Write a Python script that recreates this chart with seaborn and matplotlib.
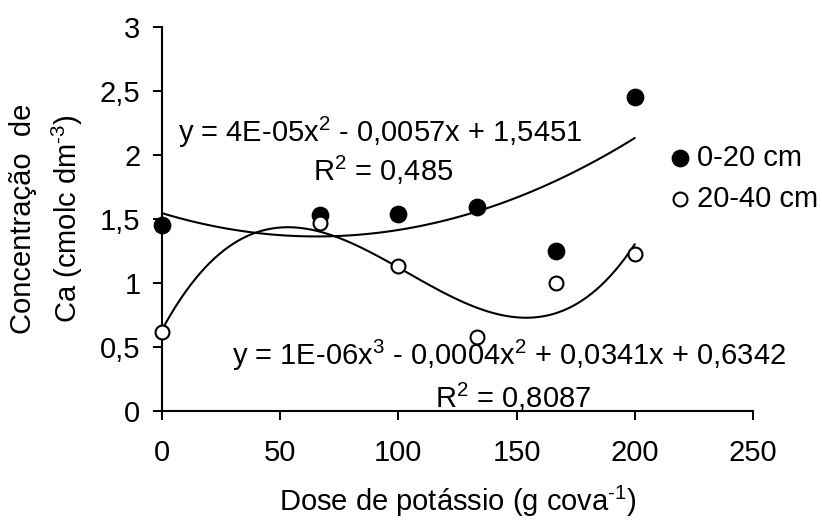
import seaborn as sns
import matplotlib.pyplot as plt
import pandas as pd

# Dados
doses = [0, 66.67, 100, 133.33, 166.67, 200]
ca_0_20 = [1.45, 1.535, 1.54, 1.59, 1.25, 2.45]
ca_20_40 = [0.62, 1.47, 1.13, 0.58, 1.00, 1.23]
camadas = ['0-20 cm', '20-40 cm']

xticks = [0, 50, 100, 150, 200, 250]
yticks = [0, 0.5, 1, 1.5, 2, 2.5, 3]
ytick_labels = ['0', '0,5', '1', '1,5', '2', '2,5', '3']

eq_0_20 = 'y = 4E-05x$^{2}$ - 0,0057x + 1,5451'
r2_0_20 = 'R$^{2}$ = 0,485'
eq_20_40 = 'y = 1E-06x$^{3}$ - 0,0004x$^{2}$ + 0,0341x + 0,6342'
r2_20_40 = 'R$^{2}$ = 0,8087'

df = pd.DataFrame({
    'dose': doses * 2,
    'ca': ca_0_20 + ca_20_40,
    'camada': [camadas[0]] * len(doses) + [camadas[1]] * len(doses),
})

sns.set_style('ticks')
plt.rcParams['font.family'] = ['Liberation Sans', 'DejaVu Sans']
plt.rcParams.update({
    'mathtext.default': 'regular',
    'font.size': 21,
    'text.color': 'black',
    'axes.labelcolor': 'black',
    'axes.edgecolor': 'black',
    'xtick.color': 'black',
    'ytick.color': 'black',
})
FS = 21

fig, ax = plt.subplots(figsize=(8.22, 5.22), dpi=100)
fig.subplots_adjust(left=162 / 822, right=753 / 822, bottom=111 / 522, top=495 / 522)

# linhas de tendência (polinomial 2ª e 3ª ordem)
d1 = df[df['camada'] == camadas[0]]
d2 = df[df['camada'] == camadas[1]]
sns.regplot(data=d1, x='dose', y='ca', order=2, ci=None, scatter=False,
            color='black', line_kws={'lw': 1.5}, ax=ax)
sns.regplot(data=d2, x='dose', y='ca', order=3, ci=None, scatter=False,
            color='black', line_kws={'lw': 1.5}, ax=ax)

# pontos
sns.scatterplot(data=d1, x='dose', y='ca', color='black', edgecolor='black',
                s=140, label=camadas[0], ax=ax, zorder=3, clip_on=False)
sns.scatterplot(data=d2, x='dose', y='ca', color='white', edgecolor='black',
                linewidth=1.5, s=100, label=camadas[1], ax=ax, zorder=3, clip_on=False)

ax.set_xlim(0, 250)
ax.set_ylim(0, 3)
ax.set_xticks(xticks)
ax.set_yticks(yticks)
ax.set_yticklabels(ytick_labels)
sns.despine(ax=ax)
for s in ['left', 'bottom']:
    ax.spines[s].set_linewidth(1.5)
ax.tick_params(axis='both', direction='out', length=6.5, width=1.4, labelsize=FS)
ax.tick_params(axis='y', pad=9)
ax.tick_params(axis='x', pad=14)

# hífen (U+2010) nos expoentes, como no original
ax.set_xlabel('Dose de potássio (g cova$^{\u20101}$)', fontsize=FS, labelpad=12)
ax.set_ylabel('Concentração  de\nCa (cmolc dm$^{\u20103}$)', fontsize=FS,
              linespacing=1.45, labelpad=11)

# equações
ax.text(6.8, 2.10, eq_0_20, fontsize=FS, ha='left', va='baseline')
ax.text(63.9, 1.80, r2_0_20, fontsize=FS, ha='left', va='baseline')
ax.text(29.6, 0.36, eq_20_40, fontsize=FS, ha='left', va='baseline')
ax.text(115.5, 0.025, r2_20_40, fontsize=FS, ha='left', va='baseline')

ax.legend(frameon=False, loc='upper left', bbox_to_anchor=(668 / 822, 1 - 144 / 522),
          bbox_transform=fig.transFigure, borderpad=0, borderaxespad=0,
          handlelength=0.8, handletextpad=0.2, labelspacing=0.45, fontsize=FS)

plt.savefig('out.png', dpi=100)
